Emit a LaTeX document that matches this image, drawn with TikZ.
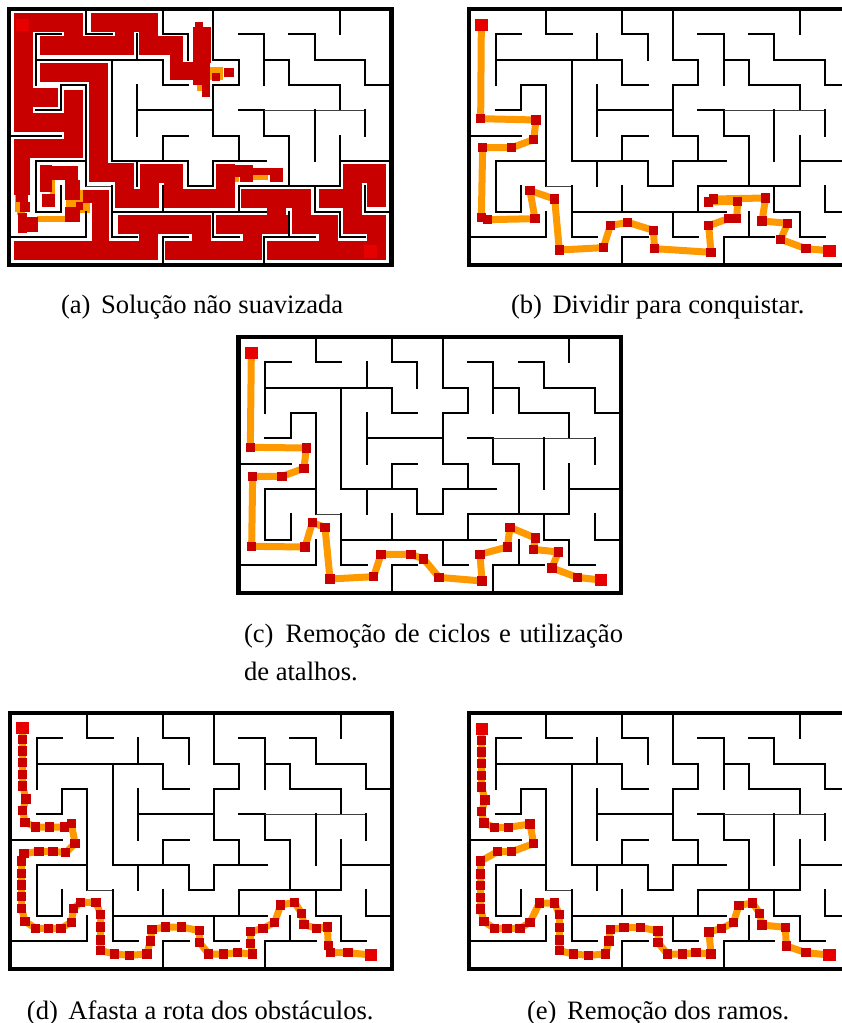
\documentclass[tikz,border=0pt]{standalone}
\usepackage{fontspec}
\setmainfont{Liberation Serif}
\usetikzlibrary{plotmarks}
\definecolor{rtc}{HTML}{FF9900}
\definecolor{dotc}{HTML}{C80000}
\definecolor{endc}{HTML}{E60000}
\tikzset{
  wall/.style={draw=black,line width=2pt,line cap=rect,line join=miter},
  thinwall/.style={draw=black!75,line width=1.3pt,line cap=butt},
  frameline/.style={draw=black,line width=4.2pt,line join=miter},
  rt/.style={draw=rtc,line width=7pt,line join=round},
  routeline/.style={rt,mark=square*,mark size=4.3pt,mark options={draw=dotc,fill=dotc,line width=0pt}},
  blob/.style={draw=dotc,line width=19pt,line cap=rect,line join=miter},
  captext/.style={anchor=base west,inner sep=0pt,outer sep=0pt,font=\fontsize{26.6}{30}\selectfont},
}
\newcommand\mazepanel[2]{%
  \begin{scope}[shift={(#1,#2)},x=25.35pt,y=-25.35pt]
    \draw[frameline] (-0.05,0) rectangle (15.03,10.1);
    \draw[wall] (3,0)--(3,1)--(4,1);
    \draw[wall] (6,0)--(6,1)--(7,1)--(7,2);
    \draw[wall] (8,0)--(8,2)--(9,2)--(9,3)--(8,3)--(8,5)--(9,5)--(9,6);
    \draw[wall] (13,0)--(13,1);
    \draw[wall] (2,1)--(1,1)--(1,3);
    \draw[wall] (1,2)--(6,2)--(6,3)--(7,3);
    \draw[wall] (5,1)--(5,2);
    \draw[wall] (9,1)--(10,1)--(10,3);
    \draw[wall] (10,2)--(11,2)--(11,3)--(13,3)--(13,4);
    \draw[wall] (11,1)--(12,1)--(12,2)--(14,2)--(14,3)--(15,3);
    \draw[wall] (1,4)--(2,4)--(2,3)--(3,3)--(3,7);
    \draw[thinwall] (3,7)--(4,7);
    \draw[wall] (4,7)--(4,9)--(5,9);
    \draw[wall] (4,2)--(4,6)--(7,6)--(7,7)--(8,7)--(8,6)--(10.1,6);
    \draw[wall] (5,3)--(5,5);
    \draw[wall] (5,4)--(8,4);
    \draw[wall] (9,4)--(10,4)--(10,5)--(11,5)--(11,7);
    \draw[thinwall] (10,4)--(14,4);
    \draw[wall] (14,4)--(14,5);
    \draw[wall] (12,4)--(12,6);
    \draw[wall] (13,5)--(13,7);
    \draw[wall] (13,6)--(15,6);
    \draw[wall] (6,6)--(6,5)--(7,5);
    \draw[wall] (5,6)--(5,7);
    \draw[wall] (9,8)--(9,7)--(13,7);
    \draw[wall] (6,7)--(6,8);
    \draw[wall] (4,8)--(10.1,8);
    \draw[wall] (3,6)--(1,6)--(1,8)--(2,8)--(2,7);
    \draw[wall] (0,5)--(2,5);
    \draw[wall] (0,9)--(3,9)--(3,8);
    \draw[wall] (6,10)--(6,9)--(7,9);
    \draw[wall] (8,8)--(8,9)--(9,9);
    \draw[wall] (10,10)--(10,9)--(12,9);
    \draw[wall] (11,8)--(11,9);
    \draw[wall] (12,7)--(12,8)--(13,8)--(13,9)--(14,9);
    \draw[wall] (14,7)--(14,8)--(15,8);
  \end{scope}}
% #1,#2 offset of the crop; #3 start, #4 dots, #5 end (all in third-of-pixel units)
\newcommand\routeon[5]{%
  \begin{scope}[shift={(#1,#2)},x=0.33333pt,y=-0.33333pt]
    \draw[routeline] plot coordinates {#3 #4 #5};
    \fill[endc] #3 ++(-18.5,-18.5) rectangle ++(37,37);
    \fill[endc] #5 ++(-18.5,-18.5) rectangle ++(37,37);
  \end{scope}}
\begin{document}
\begin{tikzpicture}[x=1pt,y=-1pt]
\path[use as bounding box,fill=white] (0,0) rectangle (842,1023);
\clip (0,0) rectangle (842,1023);

% --- panel (a): route and dense samples, in third-of-pixel units
\begin{scope}[x=0.33333pt,y=-0.33333pt]
  % orange route showing through
  \fill[rtc] (110,648) rectangle (200,667);
  \fill[rtc] (150,540) rectangle (165,585);
  \fill[rtc] (198,570) rectangle (270,640);
  \fill[rtc] (45,560) rectangle (62,635);
  \fill[rtc] (50,630) rectangle (75,645);
  \fill[rtc] (630,202) rectangle (670,240);
  \fill[rtc] (592,250) rectangle (608,272);
  \fill[rtc] (692,522) rectangle (716,545);
  \fill[rtc] (750,525) rectangle (805,540);
  % upper left corridors
  \draw[blob] (70,68)--(222,68)--(222,137);
  \draw[blob] (148,137)--(372,137);
  \draw[blob] (70,68)--(70,368)--(222,368)--(222,298);
  \draw[blob] (70,292)--(147,292);
  \draw[blob] (222,368)--(222,445)--(72,445);
  % second run across the top
  \draw[blob] (303,68)--(447,68)--(447,137)--(522,137);
  \draw[blob] (373,68)--(373,137);
  % tangle near the top
  \fill[dotc] (585,67) rectangle (610,92);
  \fill[dotc] (580,80) rectangle (632,190);
  \fill[dotc] (510,165) rectangle (550,190);
  \fill[dotc] (510,185) rectangle (630,240);
  \fill[dotc] (605,240) rectangle (630,290);
  \fill[dotc] (580,240) rectangle (605,255);
  \fill[dotc] (637,220) rectangle (660,242);
  \fill[dotc] (672,205) rectangle (702,232);
  % long middle corridor
  \draw[blob] (148,216)--(296,216)--(296,517)--(373,517)--(373,596)--(449,596)--(449,520)--(522,520)--(522,596)--(677,596)--(677,520);
  \fill[dotc] (660,495) rectangle (760,530);
  \fill[dotc] (755,503) rectangle (815,525);
  \fill[dotc] (720,515) rectangle (760,545);
  \fill[dotc] (810,505) rectangle (848,545);
  % lower left tangle
  \fill[dotc] (42,470) rectangle (90,585);
  \fill[dotc] (48,585) rectangle (85,605);
  \fill[dotc] (60,605) rectangle (90,635);
  \fill[dotc] (55,640) rectangle (80,700);
  \fill[dotc] (80,650) rectangle (115,695);
  \fill[dotc] (120,495) rectangle (155,575);
  \fill[dotc] (120,497) rectangle (235,540);
  \fill[dotc] (195,540) rectangle (240,600);
  \fill[dotc] (127,583) rectangle (165,620);
  \fill[dotc] (195,620) rectangle (240,667);
  \fill[dotc] (227,605) rectangle (250,630);
  \fill[dotc] (248,570) rectangle (328,610);
  \fill[dotc] (275,600) rectangle (328,725);
  % bottom corridors
  \draw[blob] (70,750)--(447,750);
  \draw[blob] (383,672)--(602,672);
  \draw[blob] (447,672)--(447,750);
  \draw[blob] (525,750)--(757,750)--(757,672);
  \draw[blob] (605,672)--(605,750);
  \draw[blob] (678,672)--(835,672);
  \draw[blob] (905,672)--(985,672)--(985,750);
  \draw[blob] (753,596)--(905,596)--(905,672);
  \draw[blob] (829,596)--(829,672);
  \draw[blob] (830,750)--(1130,750)--(1130,672)--(1057,672)--(1057,520)--(1130,520)--(1130,592);
  \draw[blob] (985,596)--(1057,596);
  \fill[endc] (47,56) rectangle (87,93);
  \fill[endc] (1092,736) rectangle (1130,773);
\end{scope}
\mazepanel{10.4}{9}

\mazepanel{470.2}{9}
\routeon{460}{0}{(64,74)}{(62,356) (228,360) (221,419) (155,443) (68,443) (64,652) (83,659) (225,656) (210,572) (284,597) (298,750) (430,743) (451,677) (503,667) (580,691) (584,746) (753,757) (746,677) (805,656) (830,656) (833,604) (745,606) (760,597) (917,594) (906,663) (983,670) (962,718) (1038,746)}{(1108,752)}

\mazepanel{239.8}{337}
\routeon{230}{330}{(64,68)}{(61,352) (229,354) (222,415) (156,439) (68,439) (65,649) (225,651) (247,578) (285,592) (300,747) (431,740) (453,673) (543,673) (581,687) (627,742) (756,753) (750,673) (832,651) (840,592) (916,624) (910,658) (985,666) (966,714) (1042,742)}{(1112,750)}

\mazepanel{11.3}{713}
\routeon{0}{705}{(68,68)}{(68,103) (68,138) (68,173) (68,208) (68,243) (78,282) (68,317) (75,352) (107,366) (148,366) (193,366) (214,355) (225,415) (197,443) (159,439) (117,439) (72,446) (65,468) (65,505) (65,540) (65,575) (65,610) (75,649) (107,670) (145,670) (183,670) (214,652) (221,610) (242,592) (288,592) (302,628) (302,666) (302,705) (302,737) (344,747) (389,751) (441,747) (451,708) (456,673) (497,666) (545,666) (598,677) (598,712) (626,747) (671,747) (713,743) (758,747) (752,715) (752,680) (789,670) (824,652) (842,600) (884,592) (905,625) (912,659) (950,670) (982,666) (985,722) (992,743) (1044,743)}{(1114,750)}

\mazepanel{470.2}{713}
\routeon{460}{705}{(65,72)}{(65,106) (65,141) (65,176) (65,211) (65,246) (75,285) (65,320) (72,354) (103,367) (145,367) (210,357) (221,416) (155,440) (113,440) (62,468) (62,507) (62,542) (62,577) (62,612) (72,650) (103,670) (141,670) (180,670) (210,652) (238,594) (284,594) (298,629) (298,667) (298,705) (298,737) (340,747) (385,751) (437,747) (447,708) (451,674) (492,667) (541,667) (594,678) (594,712) (622,747) (667,747) (708,743) (753,747) (747,681) (785,670) (820,653) (837,601) (878,594) (899,625) (906,660) (976,667) (979,723) (1038,743)}{(1108,750)}

\node[captext] (capa) at (61,313) {(a)\hspace{10.5pt}Solução não suavizada};
\node[captext] (capb) at (511,313) {(b)\hspace{10.5pt}Dividir para conquistar.};
\node[captext] (capc1) at (244,642) {\makebox[379pt][s]{(c)\hspace{12pt}Remoção de ciclos e utilização}};
\node[captext] (capc2) at (244,680) {de atalhos.};
\node[captext] (capd) at (27,1019) {(d)\hspace{10.5pt}Afasta a rota dos obstáculos.};
\node[captext] (cape) at (527,1019) {(e)\hspace{10.5pt}Remoção dos ramos.};
\end{tikzpicture}
\end{document}
